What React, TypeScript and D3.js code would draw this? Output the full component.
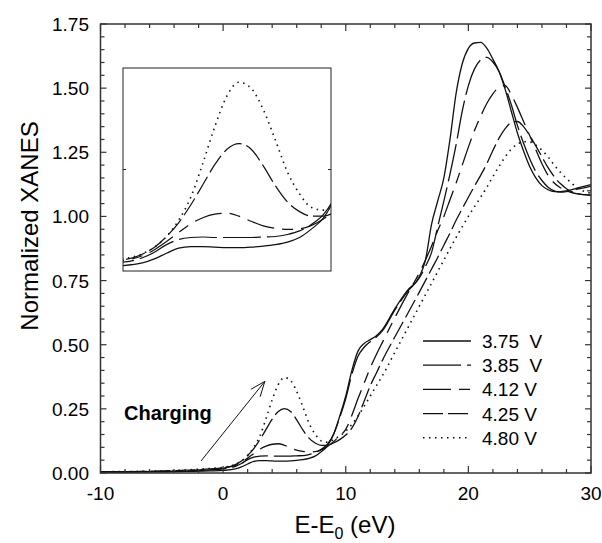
import * as d3 from "d3";
import { useEffect, useRef } from "react";

// energy grid (eV, relative to E0)
const energy = [-10, -6, -3, -1, 0, 1, 1.5, 2, 2.5, 3, 3.5, 4, 4.5, 5, 5.5, 6, 6.5, 7, 7.5, 8, 8.5, 9, 9.5, 10, 10.5, 11, 11.5, 12, 12.5, 13, 14, 15, 16, 16.5, 17, 17.5, 18, 18.5, 19, 19.5, 20, 20.5, 21, 21.5, 22, 22.5, 23, 23.5, 24, 24.5, 25, 25.5, 26, 26.5, 27, 27.5, 28, 29, 30];

const v375 = [0.003, 0.004, 0.006, 0.008, 0.01, 0.016, 0.024, 0.035, 0.045, 0.048, 0.048, 0.047, 0.046, 0.046, 0.047, 0.049, 0.052, 0.057, 0.066, 0.083, 0.105, 0.15, 0.22, 0.3, 0.4, 0.475, 0.505, 0.52, 0.535, 0.56, 0.64, 0.71, 0.765, 0.83, 0.97, 1.06, 1.15, 1.3, 1.48, 1.595, 1.655, 1.676, 1.678, 1.656, 1.613, 1.565, 1.495, 1.41, 1.325, 1.255, 1.195, 1.15, 1.12, 1.104, 1.097, 1.097, 1.1, 1.112, 1.124];
const v385 = [0.004, 0.005, 0.008, 0.012, 0.016, 0.026, 0.037, 0.052, 0.062, 0.066, 0.067, 0.066, 0.066, 0.066, 0.066, 0.067, 0.068, 0.072, 0.079, 0.092, 0.112, 0.15, 0.215, 0.29, 0.385, 0.455, 0.49, 0.512, 0.53, 0.555, 0.635, 0.705, 0.76, 0.805, 0.86, 0.96, 1.06, 1.165, 1.28, 1.41, 1.51, 1.575, 1.61, 1.62, 1.602, 1.565, 1.505, 1.435, 1.355, 1.285, 1.225, 1.175, 1.14, 1.114, 1.1, 1.095, 1.097, 1.107, 1.118];
const v412 = [0.004, 0.006, 0.009, 0.014, 0.019, 0.03, 0.042, 0.058, 0.076, 0.093, 0.105, 0.112, 0.114, 0.108, 0.098, 0.089, 0.084, 0.082, 0.083, 0.09, 0.103, 0.122, 0.145, 0.17, 0.225, 0.29, 0.35, 0.41, 0.462, 0.51, 0.605, 0.695, 0.78, 0.83, 0.885, 0.945, 1.0, 1.065, 1.13, 1.2, 1.27, 1.335, 1.39, 1.44, 1.478, 1.503, 1.51, 1.475, 1.425, 1.37, 1.315, 1.26, 1.205, 1.16, 1.13, 1.112, 1.1, 1.087, 1.083];
const v425 = [0.005, 0.007, 0.011, 0.016, 0.02, 0.033, 0.047, 0.068, 0.095, 0.13, 0.17, 0.21, 0.24, 0.251, 0.24, 0.207, 0.168, 0.136, 0.117, 0.108, 0.108, 0.117, 0.13, 0.148, 0.175, 0.22, 0.28, 0.34, 0.39, 0.44, 0.53, 0.617, 0.705, 0.75, 0.795, 0.84, 0.888, 0.935, 0.985, 1.03, 1.075, 1.118, 1.16, 1.205, 1.257, 1.305, 1.342, 1.366, 1.37, 1.35, 1.315, 1.275, 1.232, 1.19, 1.155, 1.128, 1.108, 1.088, 1.083];
const v480 = [0.005, 0.007, 0.012, 0.018, 0.022, 0.034, 0.047, 0.068, 0.1, 0.145, 0.212, 0.285, 0.345, 0.372, 0.36, 0.318, 0.258, 0.195, 0.152, 0.125, 0.12, 0.13, 0.145, 0.163, 0.19, 0.222, 0.26, 0.3, 0.34, 0.38, 0.47, 0.56, 0.65, 0.695, 0.74, 0.785, 0.83, 0.875, 0.918, 0.96, 1.0, 1.038, 1.075, 1.113, 1.155, 1.195, 1.232, 1.262, 1.282, 1.291, 1.29, 1.278, 1.258, 1.232, 1.2, 1.172, 1.148, 1.108, 1.09];

const seriesLabels = ["3.75  V", "3.85  V", "4.12 V", "4.25 V", "4.80 V"];
const seriesValues = [v375, v385, v412, v425, v480];

const xTicks = [-10, 0, 10, 20, 30];
const yTicks = [0, 0.25, 0.5, 0.75, 1.0, 1.25, 1.5, 1.75];

// inset zoom window (pre-edge)
const insetX = [0.2, 8.8];
const insetY = [0, 0.4];

// "Charging" arrow, in data units
const arrowFrom = [-1.8, 0.047];
const arrowTo = [3.4, 0.357];

export default function App() {
  const ref = useRef<SVGSVGElement>(null);

  useEffect(() => {
    const svg = d3.select(ref.current);
    svg.selectAll("*").remove();

    const font = "'Liberation Sans', Arial, sans-serif";
    const left = 100.5, right = 591, top = 24, bottom = 473;

    const x = d3.scaleLinear().domain([-10, 30]).range([left, right]);
    const y = d3.scaleLinear().domain([0, 1.75]).range([bottom, top]);

    const dashes = ["none", "38,6", "28,8,11,8", "20,5", "1.5,4.5"];

    const defs = svg.append("defs");
    defs.append("clipPath").attr("id", "plotClip")
      .append("rect").attr("x", left).attr("y", top).attr("width", right - left).attr("height", bottom - top);

    const rows = energy.map((e, i) => ({ e, vals: seriesValues.map(s => s[i]) }));

    // main curves
    const main = svg.append("g").attr("clip-path", "url(#plotClip)");
    seriesValues.forEach((_, k) => {
      const line = d3.line<any>()
        .x(d => x(d.e))
        .y(d => y(d.vals[k]))
        .curve(d3.curveMonotoneX);
      main.append("path")
        .datum(rows)
        .attr("d", line)
        .attr("fill", "none")
        .attr("stroke", "#111")
        .attr("stroke-width", k === 4 ? 1.6 : 1.3)
        .attr("stroke-dasharray", dashes[k]);
    });

    // frame
    svg.append("rect")
      .attr("x", left).attr("y", top)
      .attr("width", right - left).attr("height", bottom - top)
      .attr("fill", "none").attr("stroke", "#333").attr("stroke-width", 1.5);

    // x ticks (bottom and top, inward)
    d3.range(-10, 30.01, 2).forEach(v => {
      const major = v % 10 === 0;
      const len = major ? 7 : 4;
      svg.append("line").attr("x1", x(v)).attr("x2", x(v)).attr("y1", bottom).attr("y2", bottom - len)
        .attr("stroke", "#333").attr("stroke-width", 1.2);
      svg.append("line").attr("x1", x(v)).attr("x2", x(v)).attr("y1", top).attr("y2", top + len)
        .attr("stroke", "#333").attr("stroke-width", 1.2);
    });
    // y ticks (left and right, inward)
    d3.range(0, 1.7501, 0.05).forEach((v, i) => {
      const major = i % 5 === 0;
      const len = major ? 6 : 4;
      svg.append("line").attr("x1", left).attr("x2", left + len).attr("y1", y(v)).attr("y2", y(v))
        .attr("stroke", "#333").attr("stroke-width", 1.2);
      svg.append("line").attr("x1", right).attr("x2", right - len).attr("y1", y(v)).attr("y2", y(v))
        .attr("stroke", "#333").attr("stroke-width", 1.2);
    });

    svg.selectAll("text.xtick").data(xTicks).enter().append("text")
      .attr("class", "xtick")
      .attr("x", d => x(d)).attr("y", 500)
      .attr("text-anchor", "middle")
      .attr("font-family", font).attr("font-size", 19)
      .text(d => d);

    svg.selectAll("text.ytick").data(yTicks).enter().append("text")
      .attr("class", "ytick")
      .attr("x", 89).attr("y", d => y(d) + 7)
      .attr("text-anchor", "end")
      .attr("font-family", font).attr("font-size", 19)
      .text(d => d.toFixed(2));

    // axis titles
    const xt = svg.append("text")
      .attr("x", 345).attr("y", 533)
      .attr("text-anchor", "middle")
      .attr("font-family", font).attr("font-size", 24);
    xt.append("tspan").text("E-E");
    xt.append("tspan").attr("font-size", 16).attr("dy", 6).text("0");
    xt.append("tspan").attr("dy", -6).text(" (eV)");

    svg.append("text")
      .attr("transform", "translate(38,226) rotate(-90)")
      .attr("text-anchor", "middle")
      .attr("font-family", font).attr("font-size", 24)
      .text("Normalized XANES");

    // legend
    seriesLabels.forEach((lab, k) => {
      const ly = 341 + k * 24.2;
      svg.append("line")
        .attr("x1", 423).attr("x2", 471).attr("y1", ly).attr("y2", ly)
        .attr("stroke", "#111").attr("stroke-width", k === 4 ? 1.6 : 1.3)
        .attr("stroke-dasharray", dashes[k]);
      svg.append("text")
        .attr("x", 482).attr("y", ly + 7)
        .attr("font-family", font).attr("font-size", 19)
        .style("white-space", "pre")
        .text(lab);
    });

    // charging arrow
    const ax1 = x(arrowFrom[0]), ay1 = y(arrowFrom[1]);
    const ax2 = x(arrowTo[0]), ay2 = y(arrowTo[1]);
    svg.append("line").attr("x1", ax1).attr("y1", ay1).attr("x2", ax2).attr("y2", ay2)
      .attr("stroke", "#111").attr("stroke-width", 1);
    const ang = Math.atan2(ay2 - ay1, ax2 - ax1);
    [-0.38, 0.38].forEach(da => {
      svg.append("line")
        .attr("x1", ax2).attr("y1", ay2)
        .attr("x2", ax2 - 16 * Math.cos(ang + da)).attr("y2", ay2 - 16 * Math.sin(ang + da))
        .attr("stroke", "#111").attr("stroke-width", 1);
    });
    svg.append("text")
      .attr("x", 124).attr("y", 420)
      .attr("font-family", font).attr("font-size", 20).attr("font-weight", "bold")
      .text("Charging");

    // inset
    const ix0 = 123, ix1 = 331, iy0 = 68, iy1 = 271;
    const xi = d3.scaleLinear().domain(insetX).range([ix0, ix1]);
    const yi = d3.scaleLinear().domain(insetY).range([iy1, iy0]);
    defs.append("clipPath").attr("id", "insetClip")
      .append("rect").attr("x", ix0).attr("y", iy0).attr("width", ix1 - ix0).attr("height", iy1 - iy0);
    svg.append("rect").attr("x", ix0).attr("y", iy0).attr("width", ix1 - ix0).attr("height", iy1 - iy0)
      .attr("fill", "white");
    const ins = svg.append("g").attr("clip-path", "url(#insetClip)");
    seriesValues.forEach((_, k) => {
      const line = d3.line<any>()
        .x(d => xi(d.e))
        .y(d => yi(d.vals[k]))
        .curve(d3.curveMonotoneX);
      ins.append("path")
        .datum(rows)
        .attr("d", line)
        .attr("fill", "none")
        .attr("stroke", "#111")
        .attr("stroke-width", k === 4 ? 1.6 : 1.2)
        .attr("stroke-dasharray", dashes[k]);
    });
    svg.append("rect").attr("x", ix0).attr("y", iy0).attr("width", ix1 - ix0).attr("height", iy1 - iy0)
      .attr("fill", "none").attr("stroke", "#222").attr("stroke-width", 1);
    [ix0, ix1].forEach((px, j) => {
      svg.append("line")
        .attr("x1", px).attr("x2", px + (j === 0 ? 3 : -3))
        .attr("y1", yi(0.2)).attr("y2", yi(0.2))
        .attr("stroke", "#222").attr("stroke-width", 1);
    });
  }, []);

  return (
    <svg ref={ref} width={602} height={543}
      style={{ position: "absolute", left: 0, top: 0, background: "white" }} />
  );
}
